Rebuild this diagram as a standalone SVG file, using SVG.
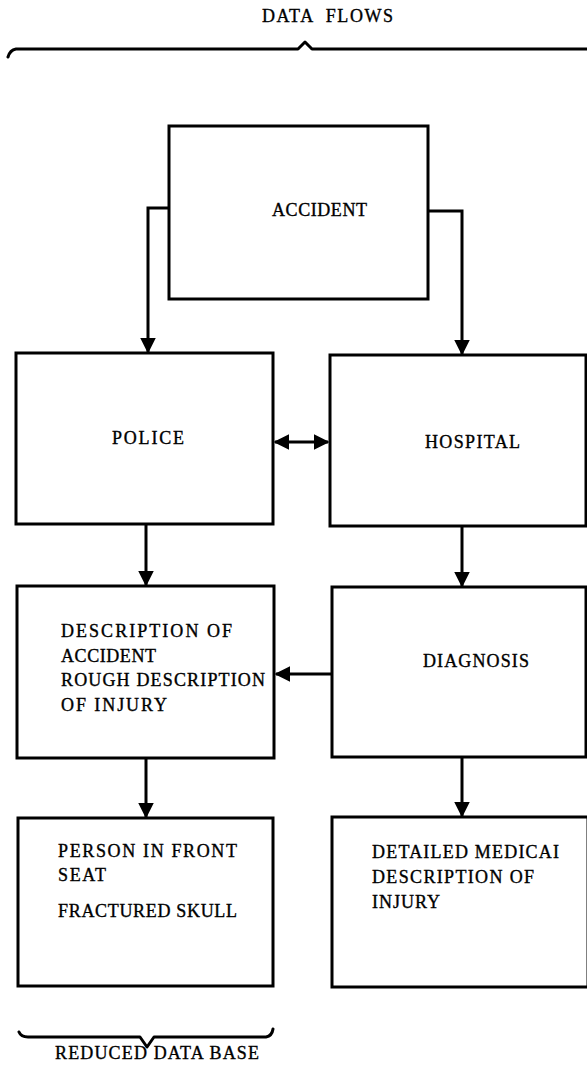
<svg xmlns="http://www.w3.org/2000/svg" width="587" height="1066" viewBox="0 0 587 1066">
  <style>
    .box { fill: #ffffff; stroke: #000000; stroke-width: 3; }
    .link { fill: none; stroke: #000000; stroke-width: 3; }
    .brace { fill: none; stroke: #000000; stroke-width: 3; stroke-linejoin: round; stroke-linecap: round; }
    .label { font-family: "Liberation Serif", "Times New Roman", serif; font-size: 18px; fill: #000000; stroke: #000000; stroke-width: 0.35; }
  </style>
  <defs>
    <marker id="arrow" viewBox="0 0 10 10" refX="9" refY="5" markerWidth="5.2" markerHeight="5.2" markerUnits="strokeWidth" orient="auto-start-reverse">
      <path d="M0,0 L10,5 L0,10 Z" fill="#000000"/>
    </marker>
  </defs>

  <rect width="587" height="1066" fill="#ffffff"/>

  <!-- heading and brace -->
  <g id="heading">
    <text class="label" x="262" y="22" textLength="131" lengthAdjust="spacing" xml:space="preserve">DATA  FLOWS</text>
    <path class="brace" d="M8 57 Q10 50 16 49 L298 49 L305 42 L312 49 L587 49"/>
  </g>

  <g id="accident">
    <rect class="box" x="169" y="126" width="259" height="173"/>
    <text class="label" x="272" y="216" textLength="95" lengthAdjust="spacing">ACCIDENT</text>
  </g>

  <g id="police">
    <rect class="box" x="16" y="353" width="257" height="171"/>
    <text class="label" x="112" y="444" textLength="72" lengthAdjust="spacing">POLICE</text>
  </g>

  <g id="hospital">
    <rect class="box" x="330" y="355" width="256" height="171"/>
    <text class="label" x="425" y="448" textLength="95" lengthAdjust="spacing">HOSPITAL</text>
  </g>

  <g id="police-record">
    <rect class="box" x="17" y="586" width="257" height="172"/>
    <text class="label" x="61" y="637" textLength="171" lengthAdjust="spacing">DESCRIPTION OF</text>
    <text class="label" x="61" y="662" textLength="95" lengthAdjust="spacing">ACCIDENT</text>
    <text class="label" x="61" y="686" textLength="204" lengthAdjust="spacing">ROUGH DESCRIPTION</text>
    <text class="label" x="61" y="711" textLength="106" lengthAdjust="spacing">OF INJURY</text>
  </g>

  <g id="diagnosis">
    <rect class="box" x="332" y="587" width="254" height="170"/>
    <text class="label" x="423" y="667" textLength="106" lengthAdjust="spacing">DIAGNOSIS</text>
  </g>

  <g id="reduced-record">
    <rect class="box" x="18" y="818" width="255" height="168"/>
    <text class="label" x="58" y="857" textLength="179" lengthAdjust="spacing">PERSON IN FRONT</text>
    <text class="label" x="58" y="881" textLength="48" lengthAdjust="spacing">SEAT</text>
    <text class="label" x="58" y="917" textLength="179" lengthAdjust="spacing">FRACTURED SKULL</text>
  </g>

  <g id="medical-record">
    <rect class="box" x="332" y="817" width="256" height="170"/>
    <text class="label" x="372" y="858" textLength="187" lengthAdjust="spacing">DETAILED MEDICAI</text>
    <text class="label" x="372" y="883" textLength="162" lengthAdjust="spacing">DESCRIPTION OF</text>
    <text class="label" x="372" y="908" textLength="68" lengthAdjust="spacing">INJURY</text>
  </g>

  <!-- reduced data base brace -->
  <g id="footer">
    <path class="brace" d="M19 1032 Q21 1037 28 1037 L140 1037 L147 1047 L154 1037 L266 1037 Q272 1036 273 1029"/>
    <text class="label" x="55" y="1059" textLength="204" lengthAdjust="spacing">REDUCED DATA BASE</text>
  </g>

  <g id="connectors">
    <path class="link" d="M169 208 H148 V352" marker-end="url(#arrow)"/>
    <path class="link" d="M428 211 H462 V354" marker-end="url(#arrow)"/>
    <path class="link" d="M275 442 H328" marker-start="url(#arrow)" marker-end="url(#arrow)"/>
    <path class="link" d="M146 524 V585" marker-end="url(#arrow)"/>
    <path class="link" d="M462 526 V586" marker-end="url(#arrow)"/>
    <path class="link" d="M332 674 H276" marker-end="url(#arrow)"/>
    <path class="link" d="M146 758 V817" marker-end="url(#arrow)"/>
    <path class="link" d="M462 757 V816" marker-end="url(#arrow)"/>
  </g>
</svg>
